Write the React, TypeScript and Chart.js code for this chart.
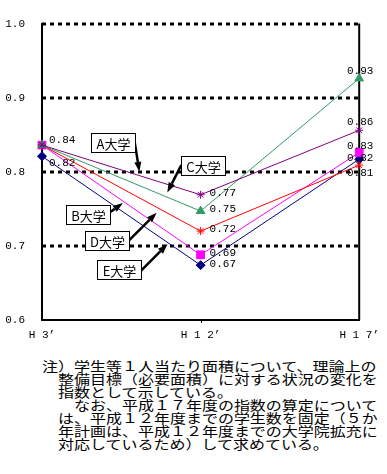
import React, { useEffect, useRef } from 'react';
import { Chart, registerables } from 'chart.js';

Chart.register(...registerables);

// ---------- data ----------
const categories = ['H 3’', 'H 1 2’', 'H 1 7’'];
const seriesNames = ['A大学', 'C大学', 'B大学', 'D大学', 'E大学'];
const valuesA = [0.836, 0.769, 0.856];
const valuesC = [0.836, 0.747, 0.926];
const valuesB = [0.836, 0.72, 0.809];
const valuesD = [0.836, 0.688, 0.826];
const valuesE = [0.821, 0.674, 0.817];
const yMin = 0.6;
const yMax = 1.0;
const yStep = 0.1;
const dashedGridValues = [0.7, 0.8, 0.9, 1.0];
const noteLines = [
  '注）学生等１人当たり面積について、理論上の',
  '　整備目標（必要面積）に対する状況の変化を',
  '　指数として示している。',
  '　　なお、平成１７年度の指数の算定について',
  '　は、平成１２年度までの学生数を固定（５か',
  '　年計画は、平成１２年度までの大学院拡充に',
  '　対応しているため）して求めている。',
];

// ---------- styles / layout ----------
const MONO = "'Liberation Mono', 'DejaVu Sans Mono', monospace";
const CJK = "'Noto Sans CJK JP', 'Noto Sans', sans-serif";

const seriesStyles = [
  { color: '#800080', point: 'star', radius: 4, fill: false },
  { color: '#339966', point: 'triangle', radius: 5, fill: true },
  { color: '#FF0000', point: 'star', radius: 4, fill: false },
  { color: '#FF00FF', point: 'rect', radius: 5.5, fill: true },
  { color: '#000080', point: 'rectRot', radius: 4.5, fill: true },
];

// per series, per category: [dx, dy, align] or null (no label)
const labelPlacement: (null | [number, number, CanvasTextAlign])[][] = [
  [[7, -5, 'left'], [9, -1.5, 'left'], [1, -8, 'center']],
  [null, [9, -1.5, 'left'], [1, -7, 'center']],
  [null, [9, -1.5, 'left'], [1, 7.5, 'center']],
  [null, [9, -1.5, 'left'], [1, -6.5, 'center']],
  [[7, 7, 'left'], [9, -1.5, 'left'], [1, -1.5, 'center']],
];

// annotation callouts in data coordinates (x = category index, y = value)
const callouts = [
  { text: 'A大学', box: [0.448, 0.8395], from: [0.583, 0.842], to: [0.614, 0.8] },
  { text: 'C大学', box: [1.014, 0.8085], from: [0.878, 0.809], to: [0.79, 0.772] },
  { text: 'B大学', box: [0.29, 0.7418], from: [0.426, 0.745], to: [0.51, 0.7578] },
  { text: 'D大学', box: [0.412, 0.7076], from: [0.547, 0.7072], to: [0.723, 0.7447] },
  { text: 'E大学', box: [0.486, 0.668], from: [0.625, 0.6667], to: [0.792, 0.7024] },
];

const gridPlugin = {
  id: 'customGrid',
  beforeDatasetsDraw(chart: any) {
    const { ctx, chartArea, scales } = chart;
    const y = scales.y;
    const x = scales.x;
    ctx.save();
    ctx.strokeStyle = '#000';
    ctx.lineWidth = 3;
    ctx.setLineDash([4, 4]);
    dashedGridValues.forEach((v) => {
      const py = Math.round(y.getPixelForValue(v));
      ctx.beginPath();
      ctx.moveTo(chartArea.left, py);
      ctx.lineTo(chartArea.right, py);
      ctx.stroke();
    });
    ctx.setLineDash([]);
    ctx.lineWidth = 2;
    ctx.beginPath();
    ctx.moveTo(chartArea.right, chartArea.top);
    ctx.lineTo(chartArea.right, chartArea.bottom);
    ctx.stroke();
    // small tick at middle category
    ctx.lineWidth = 1;
    const mx = Math.round(x.getPixelForValue(1)) + 0.5;
    ctx.beginPath();
    ctx.moveTo(mx, chartArea.bottom);
    ctx.lineTo(mx, chartArea.bottom + 3);
    ctx.stroke();
    ctx.restore();
  },
};

const labelPlugin = {
  id: 'customLabels',
  afterDatasetsDraw(chart: any) {
    const { ctx, scales } = chart;
    ctx.save();
    ctx.fillStyle = '#000';
    ctx.font = `11px ${MONO}`;
    ctx.textBaseline = 'middle';
    chart.data.datasets.forEach((ds: any, si: number) => {
      ds.data.forEach((v: number, ci: number) => {
        const p = labelPlacement[si][ci];
        if (!p) return;
        const px = scales.x.getPixelForValue(ci);
        const py = scales.y.getPixelForValue(v);
        ctx.textAlign = p[2];
        ctx.fillText(v.toFixed(2), px + p[0], py + p[1]);
      });
    });

    // callouts
    callouts.forEach((c) => {
      const bx = scales.x.getPixelForValue(c.box[0]);
      const by = scales.y.getPixelForValue(c.box[1]);
      const w = 44;
      const h = 19;
      const fx = scales.x.getPixelForValue(c.from[0]);
      const fy = scales.y.getPixelForValue(c.from[1]);
      const tx = scales.x.getPixelForValue(c.to[0]);
      const ty = scales.y.getPixelForValue(c.to[1]);
      // arrow
      const ang = Math.atan2(ty - fy, tx - fx);
      const headLen = 10;
      const headW = 3.5;
      const hx = tx - Math.cos(ang) * headLen;
      const hy = ty - Math.sin(ang) * headLen;
      ctx.strokeStyle = '#000';
      ctx.lineWidth = 2.5;
      ctx.beginPath();
      ctx.moveTo(fx, fy);
      ctx.lineTo(hx, hy);
      ctx.stroke();
      ctx.fillStyle = '#000';
      ctx.beginPath();
      ctx.moveTo(tx, ty);
      ctx.lineTo(hx + Math.sin(ang) * headW, hy - Math.cos(ang) * headW);
      ctx.lineTo(hx - Math.sin(ang) * headW, hy + Math.cos(ang) * headW);
      ctx.closePath();
      ctx.fill();
      // box
      const left = Math.round(bx - w / 2) + 0.5;
      const top = Math.round(by - h / 2) + 0.5;
      ctx.fillStyle = '#fff';
      ctx.fillRect(left, top, w, h);
      ctx.strokeStyle = '#000';
      ctx.lineWidth = 1;
      ctx.strokeRect(left, top, w, h);
      ctx.fillStyle = '#000';
      ctx.font = `13px ${CJK}`;
      ctx.textAlign = 'center';
      ctx.textBaseline = 'middle';
      ctx.fillText(c.text, left + w / 2, top + h / 2 + 1);
      ctx.font = `11px ${MONO}`;
    });
    ctx.restore();
  },
};

export default function App() {
  const ref = useRef<HTMLCanvasElement | null>(null);

  useEffect(() => {
    if (!ref.current) return;
    const allValues = [valuesA, valuesC, valuesB, valuesD, valuesE];
    const chart = new Chart(ref.current, {
      type: 'line',
      data: {
        labels: categories,
        datasets: allValues.map((vals, i) => ({
          label: seriesNames[i],
          data: vals,
          borderColor: seriesStyles[i].color,
          backgroundColor: seriesStyles[i].fill ? seriesStyles[i].color : 'transparent',
          borderWidth: 1,
          pointStyle: seriesStyles[i].point as any,
          pointRadius: seriesStyles[i].radius,
          pointBorderColor: seriesStyles[i].color,
          pointBackgroundColor: seriesStyles[i].color,
          pointBorderWidth: 1,
          tension: 0,
        })),
      },
      plugins: [gridPlugin, labelPlugin],
      options: {
        animation: false,
        responsive: false,
        devicePixelRatio: 1,
        events: [],
        layout: { padding: { left: 0, right: 26, top: 14, bottom: 0 } },
        plugins: {
          legend: { display: false },
          tooltip: { enabled: false },
          title: { display: false },
        },
        scales: {
          x: {
            type: 'category',
            offset: false,
            grid: { display: false, drawTicks: false },
            border: { display: true, color: '#000', width: 2 },
            ticks: {
              color: '#000',
              font: { family: MONO, size: 11 },
              padding: 8,
              maxRotation: 0,
              autoSkip: false,
            },
            afterFit: (s: any) => {
              s.height = 25;
            },
          },
          y: {
            type: 'linear',
            min: yMin,
            max: yMax,
            grid: { display: false, drawTicks: false },
            border: { display: true, color: '#000', width: 2 },
            ticks: {
              stepSize: yStep,
              color: '#000',
              font: { family: MONO, size: 11 },
              padding: 17,
              callback: (v: any) => Number(v).toFixed(1),
            },
            afterFit: (s: any) => {
              s.width = 42;
            },
          },
        },
      },
    });
    return () => chart.destroy();
  }, []);

  return (
    <div style={{ position: 'absolute', left: 0, top: 0, width: 387, height: 474, background: '#fff' }}>
      <canvas ref={ref} width={387} height={345} style={{ position: 'absolute', left: 0, top: 0 }} />
      <div
        style={{
          position: 'absolute',
          left: 42,
          top: 359,
          fontFamily: CJK,
          fontSize: 13,
          lineHeight: '13px',
          color: '#000',
          whiteSpace: 'pre',
          transform: 'scaleX(1.23)',
          transformOrigin: '0 0',
        }}
      >
        {noteLines.map((l, i) => (
          <div key={i}>{l}</div>
        ))}
      </div>
    </div>
  );
}
